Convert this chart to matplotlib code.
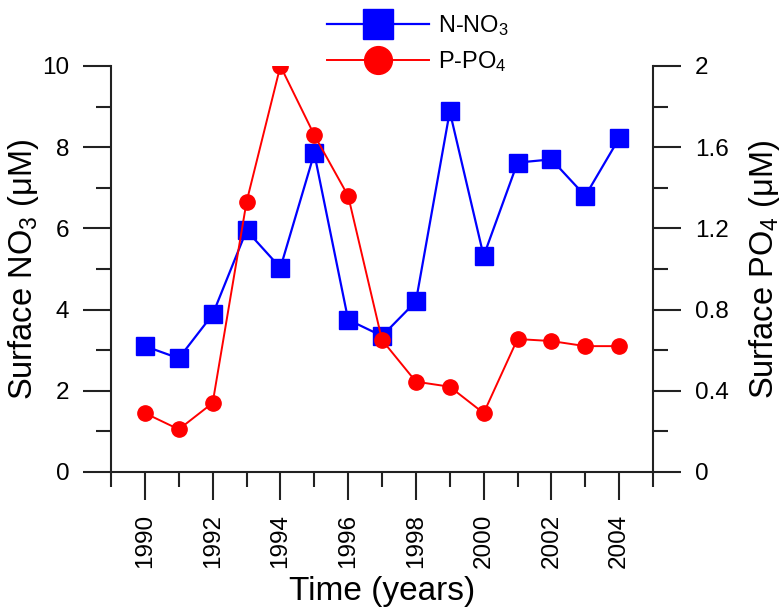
import matplotlib
matplotlib.use("Agg")
import matplotlib.pyplot as plt
from matplotlib.ticker import MultipleLocator, FixedLocator
from matplotlib.lines import Line2D

years = [1990, 1991, 1992, 1993, 1994, 1995, 1996, 1997, 1998, 1999, 2000, 2001, 2002, 2003, 2004]
no3 = [3.1, 2.8, 3.88, 5.95, 5.03, 7.85, 3.75, 3.35, 4.2, 8.88, 5.32, 7.62, 7.7, 6.8, 8.22]
po4 = [0.29, 0.21, 0.34, 1.33, 2.0, 1.66, 1.36, 0.65, 0.445, 0.42, 0.29, 0.655, 0.645, 0.62, 0.62]
xticks = [1990, 1992, 1994, 1996, 1998, 2000, 2002, 2004]
left_ticks = [0, 2, 4, 6, 8, 10]
right_ticks = [0, 0.4, 0.8, 1.2, 1.6, 2.0]
right_labels = ["0", "0.4", "0.8", "1.2", "1.6", "2"]

plt.rcParams['font.family'] = ['Liberation Sans', 'DejaVu Sans']
plt.rcParams['mathtext.fontset'] = 'custom'
plt.rcParams['mathtext.rm'] = 'Liberation Sans'
plt.rcParams['mathtext.it'] = 'Liberation Sans:italic'
plt.rcParams['mathtext.default'] = 'regular'

axc = '#222222'
fig = plt.figure(figsize=(7.83, 6.11), dpi=100)
ax = fig.add_axes([0.1418, 0.2275, 0.834 - 0.1418, 0.892 - 0.2275])
ax2 = ax.twinx()

ax.plot(years, no3, color='#0000ff', lw=1.6, marker='s', ms=13.5, zorder=3)
ax2.plot(years, po4, color='#ff0000', lw=1.4, marker='o', ms=11, zorder=3)

ax.set_xlim(1989, 2005)
ax.set_ylim(0, 10)
ax2.set_ylim(0, 2)

ax.xaxis.set_major_locator(FixedLocator(xticks))
ax.xaxis.set_minor_locator(MultipleLocator(1))
ax.yaxis.set_major_locator(FixedLocator(left_ticks))
ax.yaxis.set_minor_locator(MultipleLocator(1))
ax2.yaxis.set_major_locator(FixedLocator(right_ticks))
ax2.set_yticklabels(right_labels)
ax2.yaxis.set_minor_locator(MultipleLocator(0.2))

for a in (ax, ax2):
    a.spines['top'].set_visible(False)
    for s in a.spines.values():
        s.set_linewidth(1.5)
        s.set_color(axc)
    a.tick_params(which='major', direction='out', length=20.5, width=1.5, color=axc, labelsize=17.5, pad=9.5)
    a.tick_params(which='minor', direction='out', length=10.5, width=1.5, color=axc)
ax.spines['right'].set_visible(False)
ax2.spines['left'].set_visible(False)
ax2.spines['bottom'].set_visible(False)

ax.set_xticklabels([str(y) for y in xticks], rotation=90)
ax.set_ylabel('Surface NO$_3$ (μM)', fontsize=23.5, labelpad=1)
ax2.set_ylabel('Surface PO$_4$ (μM)', fontsize=23.5, labelpad=13)
ax.set_xlabel('Time (years)', fontsize=24, labelpad=6)

handles = [Line2D([], [], color='#0000ff', lw=1.6, marker='s', ms=21),
           Line2D([], [], color='#ff0000', lw=1.4, marker='o', ms=20)]
fig.legend(handles, ['N-NO$_3$', 'P-PO$_4$'], loc='upper left',
           bbox_to_anchor=(0.4176, 0.979), frameon=False, fontsize=17,
           handlelength=4.3, handletextpad=0.4, labelspacing=0.5,
           borderpad=0, borderaxespad=0)

fig.savefig('out.png', dpi=100, facecolor='white')
